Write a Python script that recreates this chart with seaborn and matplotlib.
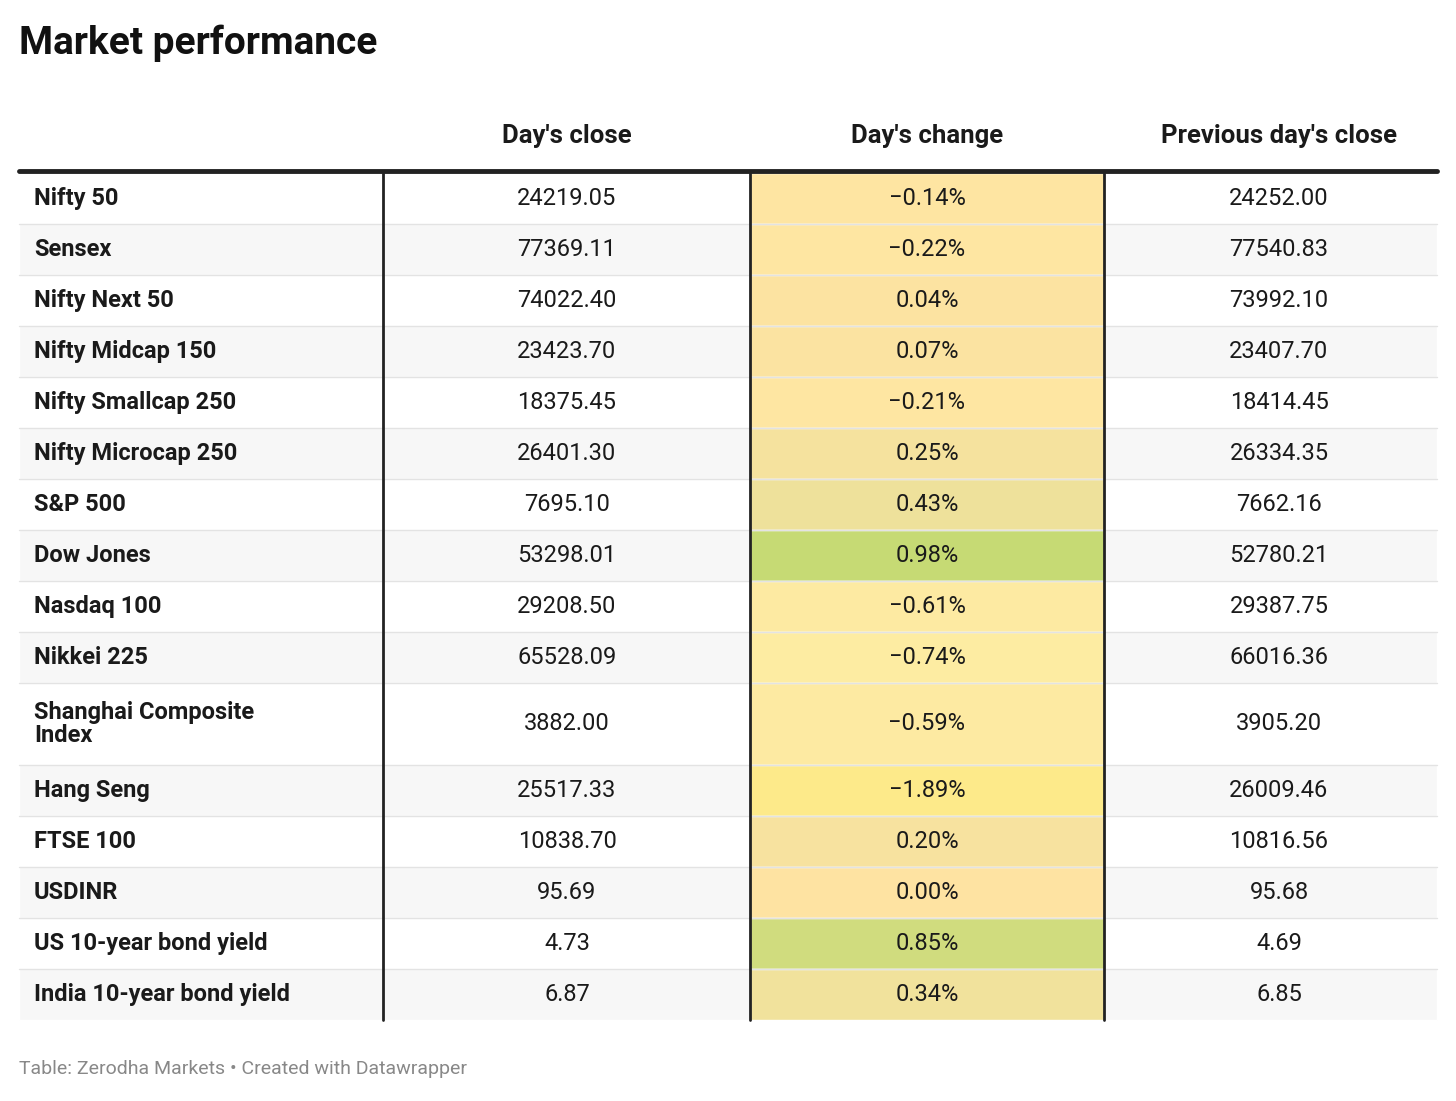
import matplotlib
matplotlib.use('Agg')
import matplotlib.pyplot as plt
import numpy as np
import seaborn as sns
from matplotlib.colors import LinearSegmentedColormap, TwoSlopeNorm

sns.set_style("white")
plt.rcParams['font.family'] = ['Roboto', 'DejaVu Sans']

names = ["Nifty 50", "Sensex", "Nifty Next 50", "Nifty Midcap 150", "Nifty Smallcap 250",
         "Nifty Microcap 250", "S&P 500", "Dow Jones", "Nasdaq 100", "Nikkei 225",
         "Shanghai Composite\nIndex", "Hang Seng", "FTSE 100", "USDINR",
         "US 10-year bond yield", "India 10-year bond yield"]
close = ["24219.05", "77369.11", "74022.40", "23423.70", "18375.45", "26401.30", "7695.10",
         "53298.01", "29208.50", "65528.09", "3882.00", "25517.33", "10838.70", "95.69",
         "4.73", "6.87"]
change = [-0.14, -0.22, 0.04, 0.07, -0.21, 0.25, 0.43, 0.98, -0.61, -0.74, -0.59, -1.89,
          0.20, 0.00, 0.85, 0.34]
prev = ["24252.00", "77540.83", "73992.10", "23407.70", "18414.45", "26334.35", "7662.16",
        "52780.21", "29387.75", "66016.36", "3905.20", "26009.46", "10816.56", "95.68",
        "4.69", "6.85"]
headers = ["Day's close", "Day's change", "Previous day's close"]

cmap = LinearSegmentedColormap.from_list(
    "chg", ["#fdea8a", "#fdeea2", "#fee3a2", "#ece19a", "#c6da74"])
norm = TwoSlopeNorm(vmin=-1.89, vcenter=0.0, vmax=0.98)

fig = plt.figure(figsize=(14.56, 11.01), dpi=100, facecolor='white')
ax = fig.add_axes([0, 0, 1, 1])
ax.set_xlim(0, 1456)
ax.set_ylim(1101, 0)
ax.axis('off')

# row geometry
heights = np.array([82 if "\n" in n else 51 for n in names])
tops = 173 + np.concatenate([[0], np.cumsum(heights)[:-1]])
centers = tops + heights / 2
bottom = tops[-1] + heights[-1]

left, right = 19, 1437
seps = [383, 750, 1104]
col_centers = [567, 927, 1279]

# alternating row shading
shade = ['white' if i % 2 == 0 else '#f7f7f7' for i in range(len(names))]
ax.barh(centers, right - left, left=left, height=heights, color=shade, zorder=0)
# change column coloured cells
ax.barh(centers, seps[2] - seps[1], left=seps[1], height=heights,
        color=[cmap(norm(c)) for c in change], zorder=1)
# row separators
for t in tops[1:]:
    ax.plot([left, right], [t, t], color='#e3e3e3', lw=1, zorder=2)
# vertical separators
for s in seps:
    ax.plot([s, s], [173, bottom], color='#222222', lw=2, zorder=3)
ax.plot([left, right], [171, 171], color='#222222', lw=3.5, zorder=3)

fs = 17
for i, n in enumerate(names):
    ax.text(34, centers[i], n, ha='left', va='center', fontsize=fs, fontweight='bold',
            color='#1a1a1a', linespacing=1.05, zorder=4)
    ax.text(col_centers[0], centers[i], close[i], ha='center', va='center', fontsize=fs,
            color='#1a1a1a', zorder=4)
    ax.text(col_centers[1], centers[i], f"{change[i]:.2f}%".replace('-', '\u2212'),
            ha='center', va='center', fontsize=fs, color='#1a1a1a', zorder=4)
    ax.text(col_centers[2], centers[i], prev[i], ha='center', va='center', fontsize=fs,
            color='#1a1a1a', zorder=4)

for h, x in zip(headers, col_centers):
    ax.text(x, 136, h, ha='center', va='center', fontsize=18.5, fontweight='bold',
            color='#1a1a1a')

ax.text(19, 43, "Market performance", ha='left', va='center', fontsize=28,
        fontweight='bold', color='#111111')
ax.text(19, 1069, "Table: Zerodha Markets \u2022 Created with Datawrapper", ha='left',
        va='center', fontsize=14, color='#888888')

plt.savefig('out.png', dpi=100, facecolor='white')
